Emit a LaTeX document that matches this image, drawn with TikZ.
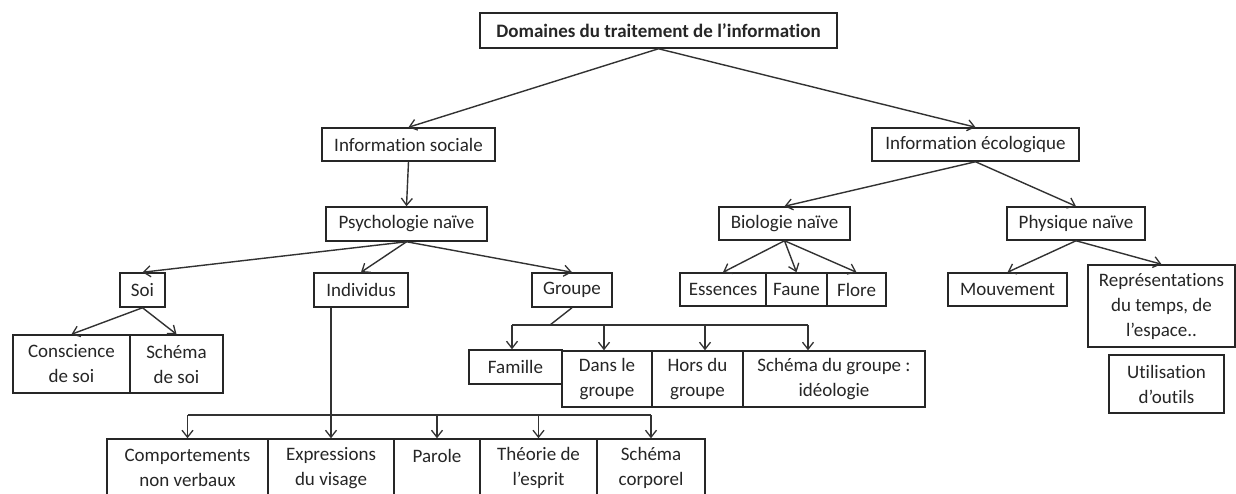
\documentclass[tikz,border=0pt]{standalone}
\usepackage{fontspec}
\setmainfont{Carlito}[Ligatures=NoCommon]
\usetikzlibrary{arrows.meta}
\definecolor{boxc}{RGB}{38,38,38}
\definecolor{linec}{RGB}{50,50,50}
\definecolor{txtc}{RGB}{38,38,38}
\tikzset{
  bx/.style={draw=boxc, line width=1.5pt, inner sep=0pt, align=center, text=txtc,
    font=\fontsize{19}{25}\selectfont},
  arr/.style={draw=linec, line width=1.4pt, -{Straight Barb[length=7pt,width=11pt,line width=1.3pt]}},
  ln/.style={draw=linec, line width=1.4pt}
}
\begin{document}
\begin{tikzpicture}[x=1pt,y=-1pt]
\useasboundingbox[fill=white] (0,0) rectangle (1236,493);
% boxes
\node[bx, minimum width=357, minimum height=35, font=\fontsize{19}{25}\selectfont\bfseries] (top) at (658.5,30.5) {Domaines du traitement de l’information};
\node[bx, minimum width=173, minimum height=33] (isoc) at (408.5,144.5) {Information sociale};
\node[bx, minimum width=207, minimum height=33] (ieco) at (975.5,144.5) {Information écologique};
\node[bx, minimum width=161, minimum height=34] (psy) at (406.5,224) {Psychologie naïve};
\node[bx, minimum width=131, minimum height=33] (bio) at (784.5,223.5) {Biologie naïve};
\node[bx, minimum width=138, minimum height=33] (phys) at (1076,223.5) {Physique naïve};
\node[bx, minimum width=45, minimum height=34] (soi) at (142.5,290) {Soi};
\node[bx, minimum width=94, minimum height=34] (ind) at (361,290) {Individus};
\node[bx, minimum width=80, minimum height=34] (grp) at (572,290) {Groupe};
\node[bx, minimum width=86, minimum height=33] (ess) at (723,289.5) {Essences};
\node[bx, minimum width=61, minimum height=33] (fau) at (796.5,289.5) {Faune};
\node[bx, minimum width=59, minimum height=33] (flo) at (856.5,289.5) {Flore};
\node[bx, minimum width=119, minimum height=33] (mvt) at (1007.5,289.5) {Mouvement};
\node[bx, minimum width=147, minimum height=82] (rep) at (1161.5,306) {Représentations\\du temps, de\\l’espace..};
\node[bx, minimum width=115, minimum height=58] (uti) at (1166.5,384) {Utilisation\\d’outils};
\node[bx, minimum width=117, minimum height=58] (cons) at (71.5,364) {Conscience\\de soi};
\node[bx, minimum width=93, minimum height=58] (ssoi) at (176.5,364) {Schéma\\de soi};
\node[bx, minimum width=93, minimum height=34] (fam) at (515.5,367) {Famille};
\node[bx, minimum width=90, minimum height=56] (dans) at (607,379) {Dans le\\groupe};
\node[bx, minimum width=91, minimum height=56] (hors) at (697.5,379) {Hors du\\groupe};
\node[bx, minimum width=182, minimum height=56] (sgrp) at (834,379) {Schéma du groupe :\\idéologie};
\node[bx, minimum width=161, minimum height=58] (comp) at (187.5,468) {Comportements\\non verbaux};
\node[bx, minimum width=126, minimum height=58] (expr) at (331,468) {Expressions\\du visage};
\node[bx, minimum width=86, minimum height=58] (par) at (437,468) {Parole\\\mbox{}};
\node[bx, minimum width=117, minimum height=58] (theo) at (538.5,468) {Théorie de\\l’esprit};
\node[bx, minimum width=108, minimum height=58] (scorp) at (651,468) {Schéma\\corporel};
% connectors
\draw[arr] (top.south) -- (isoc.north);
\draw[arr] (top.south) -- (ieco.north);
\draw[arr] (isoc.south) -- (psy.north);
\draw[arr] (ieco.south) -- (bio.north);
\draw[arr] (ieco.south) -- (phys.north);
\draw[arr] (psy.south) -- (soi.north);
\draw[arr] (psy.south) -- (ind.north);
\draw[arr] (psy.south) -- (grp.north);
\draw[arr] (soi.south) -- (cons.north);
\draw[arr] (soi.south) -- (ssoi.north);
\draw[arr] (bio.south) -- (ess.north);
\draw[arr] (bio.south) -- (fau.north);
\draw[arr] (bio.south) -- (flo.north);
\draw[arr] (phys.south) -- (mvt.north);
\draw[arr] (phys.south) -- (rep.north);
% individus
\coordinate (ib) at (0,415);
\draw[ln] (ib -| comp.north) -- (ib -| scorp.north);
\draw[arr] (ind.south -| expr.north) -- (expr.north);
\draw[arr] (ib -| comp.north) -- (comp.north);
\draw[arr] (ib -| par.north) -- (par.north);
\draw[arr] (ib -| theo.north) -- (theo.north);
\draw[arr] (ib -| scorp.north) -- (scorp.north);
% groupe
\coordinate (gb) at (550,325);
\coordinate (g1) at (512,325);
\coordinate (g2) at (604,325);
\coordinate (g3) at (705,325);
\coordinate (g4) at (808,325);
\draw[ln] (grp.south) -- (gb);
\draw[ln] (g1) -- (g4);
\draw[arr] (g1) -- (g1 |- fam.north);
\draw[arr] (g2) -- (g2 |- dans.north);
\draw[arr] (g3) -- (g3 |- hors.north);
\draw[arr] (g4) -- (g4 |- sgrp.north);
\end{tikzpicture}
\end{document}
